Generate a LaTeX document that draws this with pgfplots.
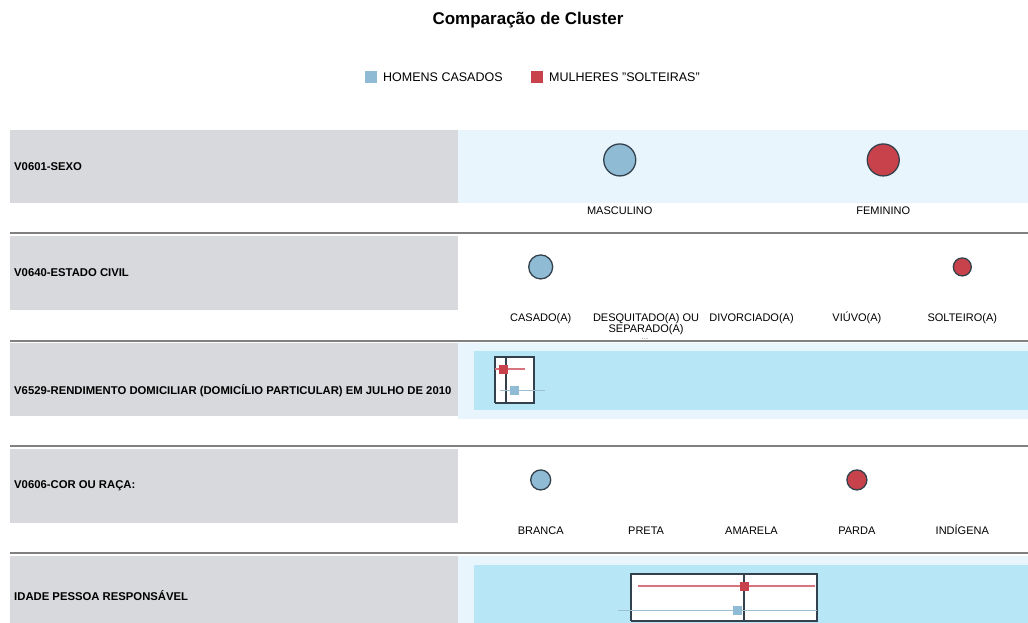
\documentclass[border=0pt]{standalone}
\usepackage{pgfplots}
\pgfplotsset{compat=1.18}
\usepackage{fontspec}
\setmainfont{Liberation Sans}

\definecolor{cblue}{HTML}{8FBBD4}
\definecolor{cred}{HTML}{C8424B}
\definecolor{labelgray}{HTML}{D7D9DC}
\definecolor{paleband}{HTML}{E9F5FC}
\definecolor{cyanband}{HTML}{B7E6F6}
\definecolor{sepgray}{HTML}{808080}
\definecolor{outline}{HTML}{33414D}
\definecolor{lred}{HTML}{D9737D}
\definecolor{lblue}{HTML}{9CBFD3}

% one strip of the comparison: categories along x
\pgfplotsset{
  striprow/.style={
    anchor=south west, scale only axis,
    width=527pt, height=73pt,
    ymin=0, ymax=1, clip=false,
    axis line style={draw=none},
    ytick=\empty, major tick length=0pt,
    xticklabel style={font=\fontsize{11}{12}\selectfont, anchor=base, yshift=-11pt, inner sep=0pt},
  },
  boxrow/.style={
    anchor=south west, scale only axis,
    width=527pt, xmin=0, xmax=100,
    ymin=0, ymax=1, clip=false, hide axis,
  },
  bubble/.style={only marks, mark=*, line width=1.3pt, draw=outline},
}

\begin{document}
\begin{tikzpicture}[x=1pt,y=-1pt]
\useasboundingbox (0,0) rectangle (1028,623);

\node[font=\bfseries\fontsize{17}{20}\selectfont] at (528,20) {Comparação de Cluster};
\fill[cblue] (365,71) rectangle (377,83);
\node[anchor=west, inner sep=0pt, font=\fontsize{12.5}{14}\selectfont] at (383,77) {HOMENS CASADOS};
\fill[cred] (531,71) rectangle (543,83);
\node[anchor=west, inner sep=0pt, font=\fontsize{12.5}{14}\selectfont] at (549,77) {MULHERES "SOLTEIRAS"};

% row backgrounds
\fill[labelgray] (10,130) rectangle (458,203);
\fill[labelgray] (10,236) rectangle (458,310);
\fill[labelgray] (10,343) rectangle (458,416);
\fill[labelgray] (10,449) rectangle (458,523);
\fill[labelgray] (10,556) rectangle (458,623);
\fill[paleband] (458,130) rectangle (1028,203);
\fill[paleband] (458,343) rectangle (1028,419);
\fill[cyanband] (474,351) rectangle (1028,410);
\fill[paleband] (458,556) rectangle (1028,623);
\fill[cyanband] (474,565) rectangle (1028,623);
\foreach \yy in {233,341,446,553}
  \draw[sepgray, line width=2.5pt] (10,\yy) -- (1028,\yy);

\begin{scope}[every node/.style={anchor=west, inner sep=0pt, font=\bfseries\fontsize{11.3}{13}\selectfont}]
\node at (14,167) {V0601-SEXO};
\node at (14,273) {V0640-ESTADO CIVIL};
\node at (14,391) {V6529-RENDIMENTO DOMICILIAR (DOMICÍLIO PARTICULAR) EM JULHO DE 2010};
\node at (14,486) {V0606-COR OU RAÇA:};
\node at (14,596) {IDADE PESSOA RESPONSÁVEL};
\end{scope}
\node[font=\fontsize{8}{9}\selectfont, text=gray] at (645,339) {...};

% sexo
\begin{axis}[striprow, at={(488pt,-203pt)}, xmin=0.5, xmax=2.5,
  xtick={1,2}, xticklabels={MASCULINO,FEMININO}]
\addplot[bubble, fill=cblue, mark size=16pt] coordinates {(1,0.59)};
\addplot[bubble, fill=cred, mark size=16pt] coordinates {(2,0.59)};
\end{axis}

% estado civil
\begin{axis}[striprow, at={(488pt,-310pt)}, xmin=0.5, xmax=5.5,
  xtick={1,...,5},
  xticklabels={CASADO(A),{\begin{tabular}[t]{@{}c@{}}DESQUITADO(A) OU\\[-1pt]SEPARADO(A)\end{tabular}},DIVORCIADO(A),VIÚVO(A),SOLTEIRO(A)}]
\addplot[bubble, fill=cblue, mark size=12pt] coordinates {(1,0.59)};
\addplot[bubble, fill=cred, mark size=9pt] coordinates {(5,0.59)};
\end{axis}

% rendimento
\begin{axis}[boxrow, at={(488pt,-410pt)}, height=59pt]
\addplot[draw=outline, fill=white, line width=1.4pt] coordinates {(1.33,0.119)(8.73,0.119)(8.73,0.898)(1.33,0.898)(1.33,0.119)};
\addplot[outline, line width=1.6pt] coordinates {(3.42,0.119)(3.42,0.898)};
\addplot[lred, line width=1.3pt] coordinates {(1.33,0.695)(7.02,0.695)};
\addplot[lblue, line width=1pt] coordinates {(2.28,0.339)(10.8,0.339)};
\addplot[only marks, mark=square*, mark size=4pt, cred] coordinates {(2.85,0.695)};
\addplot[only marks, mark=square*, mark size=4pt, cblue] coordinates {(4.93,0.339)};
\end{axis}

% cor ou raca
\begin{axis}[striprow, at={(488pt,-523pt)}, xmin=0.5, xmax=5.5,
  xtick={1,...,5}, xticklabels={BRANCA,PRETA,AMARELA,PARDA,INDÍGENA}]
\addplot[bubble, fill=cblue, mark size=10pt] coordinates {(1,0.59)};
\addplot[bubble, fill=cred, mark size=10pt] coordinates {(4,0.59)};
\end{axis}

% idade
\begin{axis}[boxrow, at={(488pt,-623pt)}, height=58pt]
\addplot[draw=outline, fill=white, line width=1.4pt] coordinates {(27.1,0.034)(62.4,0.034)(62.4,0.845)(27.1,0.845)(27.1,0.034)};
\addplot[outline, line width=1.6pt] coordinates {(48.6,0.034)(48.6,0.845)};
\addplot[lred, line width=1.3pt] coordinates {(28.5,0.638)(62.0,0.638)};
\addplot[lblue, line width=1pt] coordinates {(24.7,0.224)(62.4,0.224)};
\addplot[only marks, mark=square*, mark size=4pt, cred] coordinates {(48.6,0.638)};
\addplot[only marks, mark=square*, mark size=4pt, cblue] coordinates {(47.3,0.224)};
\end{axis}
\end{tikzpicture}
\end{document}
